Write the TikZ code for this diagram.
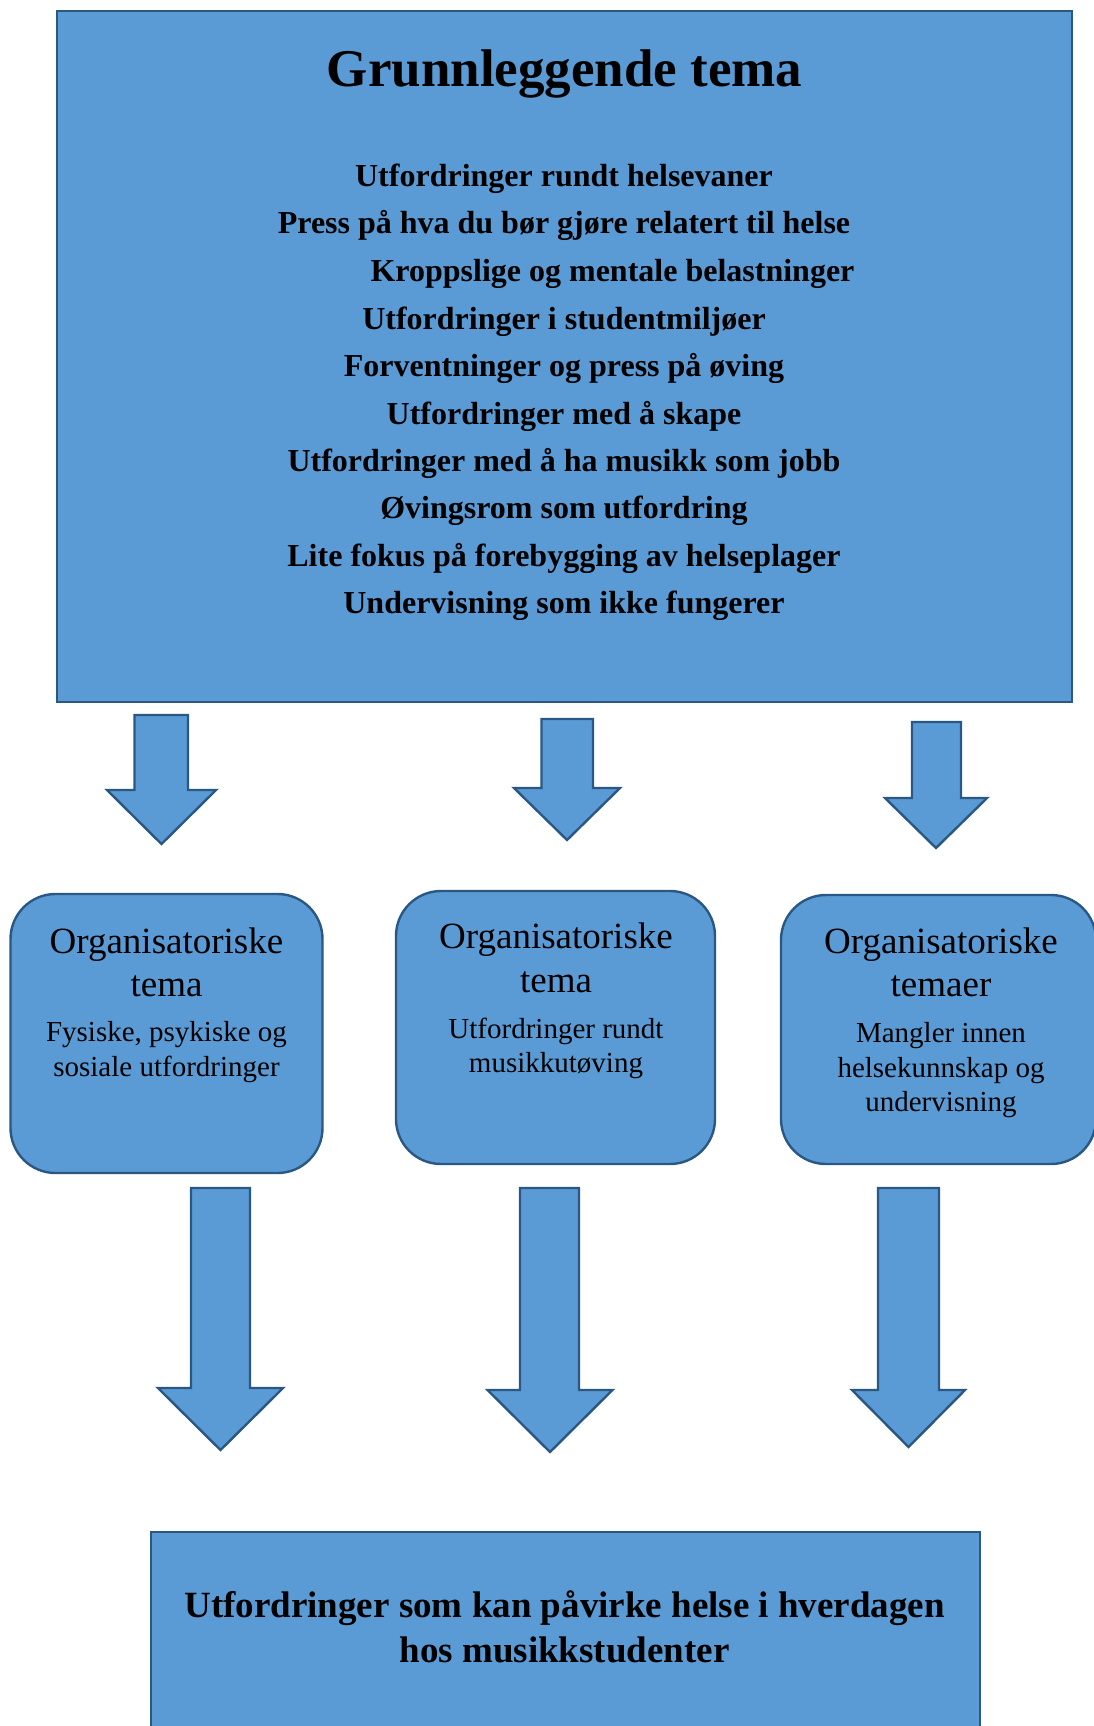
\documentclass[tikz,border=0pt]{standalone}
\usepackage{fontspec}
\setmainfont{Liberation Serif}
\definecolor{boxfill}{HTML}{5B9BD5}
\definecolor{boxline}{HTML}{2A5784}

% Block arrow pointing down:
% #1 shaft left, #2 shaft right, #3 top, #4 head base, #5 head left, #6 head right, #7 tip
\newcommand\blkarrow[7]{%
  \draw[blockarrow] (#1,#3) -- (#2,#3) -- (#2,#4) -- (#6,#4)
    -- ({(#5+#6)/2},#7) -- (#5,#4) -- (#1,#4) -- cycle;}

\begin{document}
\begin{tikzpicture}[x=1pt,y=-1pt,
  panel/.style={draw=boxline, fill=boxfill, line width=2.8pt, inner sep=0pt},
  roundpanel/.style={panel, rounded corners=45pt, line width=2.4pt},
  blockarrow/.style={draw=boxline, fill=boxfill, line width=2.4pt, line join=miter},
  txt/.style={inner sep=0pt, anchor=base},
  titletxt/.style={txt, font=\fontsize{53}{60}\selectfont\bfseries},
  itemtxt/.style={txt, font=\fontsize{32}{38}\selectfont\bfseries},
  headtxt/.style={txt, font=\fontsize{37}{42}\selectfont},
  subtxt/.style={txt, font=\fontsize{29}{33}\selectfont},
  endtxt/.style={txt, font=\fontsize{37}{44}\selectfont\bfseries}]
\useasboundingbox (0,0) rectangle (1094,1726);

% main theme panel
\node[panel, minimum width=1015pt, minimum height=691pt] (top) at (564.5,356.5) {};
\node[titletxt] (title) at (564.6,86.3) {Grunnleggende tema};
\node[itemtxt] (i1) at (564,186) {Utfordringer rundt helsevaner};
\node[itemtxt] (i2) at (564,233.5) {Press på hva du bør gjøre relatert til helse};
\node[itemtxt] (i3) at (612.5,281) {Kroppslige og mentale belastninger};
\node[itemtxt] (i4) at (564,329) {Utfordringer i studentmiljøer};
\node[itemtxt] (i5) at (564,376) {Forventninger og press på øving};
\node[itemtxt] (i6) at (564,424) {Utfordringer med å skape};
\node[itemtxt] (i7) at (564,471) {Utfordringer med å ha musikk som jobb};
\node[itemtxt] (i8) at (564,518) {Øvingsrom som utfordring};
\node[itemtxt] (i9) at (564,566) {Lite fokus på forebygging av helseplager};
\node[itemtxt] (i10) at (564,613) {Undervisning som ikke fungerer};

% upper arrows
\blkarrow{134.5}{188}{715}{790}{107}{216}{844}
\blkarrow{541.5}{593}{719}{788}{514}{620}{840}
\blkarrow{912}{961}{722}{798}{885}{987}{848}

% organisational theme boxes
\node[roundpanel, minimum width=312pt, minimum height=279pt] (b1) at (166.5,1033.5) {};
\node[roundpanel, minimum width=319pt, minimum height=273pt] (b2) at (555.5,1027.5) {};
\node[roundpanel, minimum width=315pt, minimum height=269pt] (b3) at (938.5,1029.5) {};

\node[headtxt] (b1h1) at (166.5,953) {Organisatoriske};
\node[headtxt] (b1h2) at (166.5,996) {tema};
\node[subtxt] (b1s1) at (166.5,1041.7) {Fysiske, psykiske og};
\node[subtxt] (b1s2) at (166.5,1076) {sosiale utfordringer};

\node[headtxt] (b2h1) at (556,948) {Organisatoriske};
\node[headtxt] (b2h2) at (556,992.7) {tema};
\node[subtxt] (b2s1) at (556,1038.3) {Utfordringer rundt};
\node[subtxt] (b2s2) at (556,1072.7) {musikkutøving};

\node[headtxt] (b3h1) at (941,953) {Organisatoriske};
\node[headtxt] (b3h2) at (941,996) {temaer};
\node[subtxt] (b3s1) at (941,1042.7) {Mangler innen};
\node[subtxt] (b3s2) at (941,1077) {helsekunnskap og};
\node[subtxt] (b3s3) at (941,1111.5) {undervisning};

% lower arrows
\blkarrow{191}{250}{1188}{1388}{158}{283}{1450}
\blkarrow{520}{579}{1188}{1390}{487.5}{612.5}{1452}
\blkarrow{878}{939}{1188}{1390}{852}{965}{1447}

% outcome panel
\node[panel, minimum width=829pt, minimum height=240pt] (bottom) at (565.4,1652) {};
\node[endtxt] (e1) at (564.6,1617) {Utfordringer som kan påvirke helse i hverdagen};
\node[endtxt] (e2) at (564.6,1662) {hos musikkstudenter};
\end{tikzpicture}
\end{document}
